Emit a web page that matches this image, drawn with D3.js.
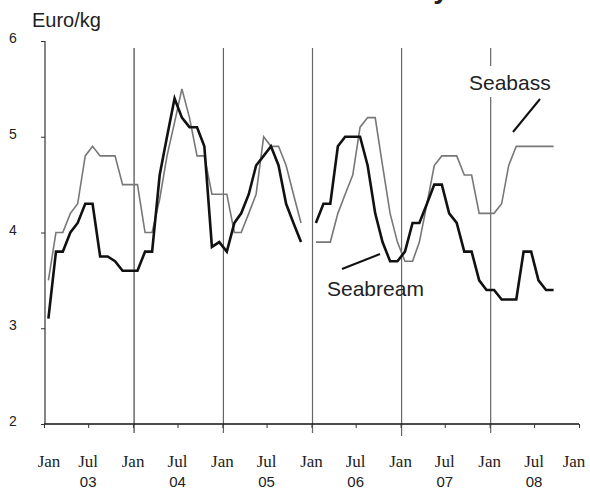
<!DOCTYPE html>
<html>
<head>
<meta charset="utf-8">
<script src="https://cdn.jsdelivr.net/npm/d3@7"></script>
<style>
  html, body { margin: 0; padding: 0; background: #fff; }
  svg { display: block; }
</style>
</head>
<body>
<svg id="chart" width="590" height="489"></svg>
<script>
// Monthly prices from Jan 2003 (index 0) to Sep 2008; null = no data
const startYear = 2003;
const seabream = [
  3.1, 3.8, 3.8, 4.0, 4.1, 4.3, 4.3, 3.75, 3.75, 3.7, 3.6, 3.6,
  3.6, 3.8, 3.8, 4.6, 5.0, 5.4, 5.2, 5.1, 5.1, 4.9, 3.85, 3.9,
  3.8, 4.1, 4.2, 4.4, 4.7, 4.8, 4.9, 4.7, 4.3, 4.1, 3.9, null,
  4.1, 4.3, 4.3, 4.9, 5.0, 5.0, 5.0, 4.7, 4.2, 3.9, 3.7, 3.7,
  3.8, 4.1, 4.1, 4.3, 4.5, 4.5, 4.2, 4.1, 3.8, 3.8, 3.5, 3.4,
  3.4, 3.3, 3.3, 3.3, 3.8, 3.8, 3.5, 3.4, 3.4
];
const seabass = [
  3.5, 4.0, 4.0, 4.2, 4.3, 4.8, 4.9, 4.8, 4.8, 4.8, 4.5, 4.5,
  4.5, 4.0, 4.0, 4.35, 4.8, 5.15, 5.5, 5.2, 4.8, 4.8, 4.4, 4.4,
  4.4, 4.0, 4.0, 4.2, 4.4, 5.0, 4.9, 4.9, 4.7, 4.4, 4.1, null,
  3.9, 3.9, 3.9, 4.2, 4.4, 4.6, 5.1, 5.2, 5.2, 4.7, 4.2, 3.9,
  3.7, 3.7, 3.9, 4.3, 4.7, 4.8, 4.8, 4.8, 4.6, 4.6, 4.2, 4.2,
  4.2, 4.3, 4.7, 4.9, 4.9, 4.9, 4.9, 4.9, 4.9
];
const yTicks = [2, 3, 4, 5, 6];
const monthLabels = ["Jan", "Jul"];
const yearLabels = ["03", "04", "05", "06", "07", "08"];
const separatorYears = [2004, 2005, 2006, 2007, 2008];

const svg = d3.select("#chart");
svg.append("rect").attr("width", 590).attr("height", 489).attr("fill", "#fff");

const x = d3.scaleTime()
  .domain([new Date(startYear, 0, 1), new Date(startYear + 6, 0, 1)])
  .range([44, 579]);
const y = d3.scaleLinear().domain([2, 6]).range([424, 41]);

const dateOf = i => new Date(startYear, i, 19);

// clipped title fragment at the top (only the descender shows)
svg.append("text")
  .attr("x", 441).attr("y", -2)
  .attr("text-anchor", "middle")
  .attr("font-family", "Liberation Sans, Arial, sans-serif")
  .attr("font-weight", "bold")
  .attr("font-size", 28)
  .attr("fill", "#222")
  .text("y");

// year separators
svg.append("g").selectAll("line")
  .data(separatorYears)
  .join("line")
  .attr("x1", d => x(new Date(d, 0, 1)) + 1)
  .attr("x2", d => x(new Date(d, 0, 1)) + 1)
  .attr("y1", 48)
  .attr("y2", (d, i) => i === 3 ? 436 : 433)
  .attr("stroke", (d, i) => i === 0 ? "#444" : "#666")
  .attr("stroke-width", 1.2);

// axes
const xTickDates = d3.range(0, 13).map(k => new Date(startYear, k * 6, 1));
const xAxis = d3.axisBottom(x)
  .tickValues(xTickDates)
  .tickSize(4)
  .tickFormat("");
const gx = svg.append("g").attr("transform", "translate(0,424)").call(xAxis);
gx.select(".domain").attr("stroke", "#111").attr("stroke-width", 1.3).attr("d", "M44,0H579");
gx.selectAll(".tick line").attr("stroke", "#333");

const yAxis = d3.axisLeft(y).tickValues(yTicks).tickSize(4).tickFormat("");
const gy = svg.append("g").attr("transform", "translate(45,0)").call(yAxis);
gy.select(".domain").attr("stroke", "#222").attr("stroke-width", 1.1).attr("d", "M0,41V424");
gy.selectAll(".tick line").attr("stroke", "#333");

// y labels
svg.append("g").selectAll("text")
  .data(yTicks)
  .join("text")
  .attr("x", 13)
  .attr("y", d => y(d) + 2)
  .attr("text-anchor", "middle")
  .attr("font-family", "Liberation Sans, Arial, sans-serif")
  .attr("font-size", 14)
  .attr("fill", "#222")
  .text(d => d);

svg.append("text")
  .attr("x", 32).attr("y", 27)
  .attr("font-family", "Liberation Sans, Arial, sans-serif")
  .attr("font-size", 20)
  .attr("fill", "#222")
  .text("Euro/kg");

// x labels
svg.append("g").selectAll("text")
  .data(xTickDates)
  .join("text")
  .attr("x", d => Math.max(49, Math.min(574, x(d))))
  .attr("y", 467)
  .attr("text-anchor", "middle")
  .attr("font-family", "Liberation Serif, Times New Roman, serif")
  .attr("font-size", 17)
  .attr("fill", "#222")
  .text((d, i) => monthLabels[i % 2]);

svg.append("g").selectAll("text")
  .data(yearLabels)
  .join("text")
  .attr("x", (d, i) => x(new Date(startYear + i, 6, 1)))
  .attr("y", 487)
  .attr("text-anchor", "middle")
  .attr("font-family", "Liberation Sans, Arial, sans-serif")
  .attr("font-size", 15)
  .attr("fill", "#222")
  .text(d => d);

// series lines
const line = d3.line()
  .defined(d => d.v !== null)
  .x(d => x(d.date))
  .y(d => y(d.v));

const toPts = arr => arr.map((v, i) => ({ date: dateOf(i), v }));

svg.append("path")
  .datum(toPts(seabass))
  .attr("d", line)
  .attr("fill", "none")
  .attr("stroke", "#777")
  .attr("stroke-width", 1.6)
  .attr("stroke-linejoin", "miter");

svg.append("path")
  .datum(toPts(seabream))
  .attr("d", line)
  .attr("fill", "none")
  .attr("stroke", "#111")
  .attr("stroke-width", 2.6)
  .attr("stroke-linejoin", "miter");

// annotations
svg.append("rect")
  .attr("x", 466).attr("y", 66).attr("width", 90).attr("height", 31)
  .attr("fill", "#fff");
svg.append("text")
  .attr("x", 469).attr("y", 90)
  .attr("font-family", "Liberation Sans, Arial, sans-serif")
  .attr("font-size", 21)
  .attr("fill", "#222")
  .text("Seabass");
svg.append("line")
  .attr("x1", 540).attr("y1", 99).attr("x2", 513).attr("y2", 132)
  .attr("stroke", "#111").attr("stroke-width", 2);

svg.append("text")
  .attr("x", 327).attr("y", 296)
  .attr("font-family", "Liberation Sans, Arial, sans-serif")
  .attr("font-size", 21)
  .attr("fill", "#222")
  .text("Seabream");
svg.append("line")
  .attr("x1", 342).attr("y1", 269).attr("x2", 380).attr("y2", 254)
  .attr("stroke", "#111").attr("stroke-width", 2);
</script>
</body>
</html>
